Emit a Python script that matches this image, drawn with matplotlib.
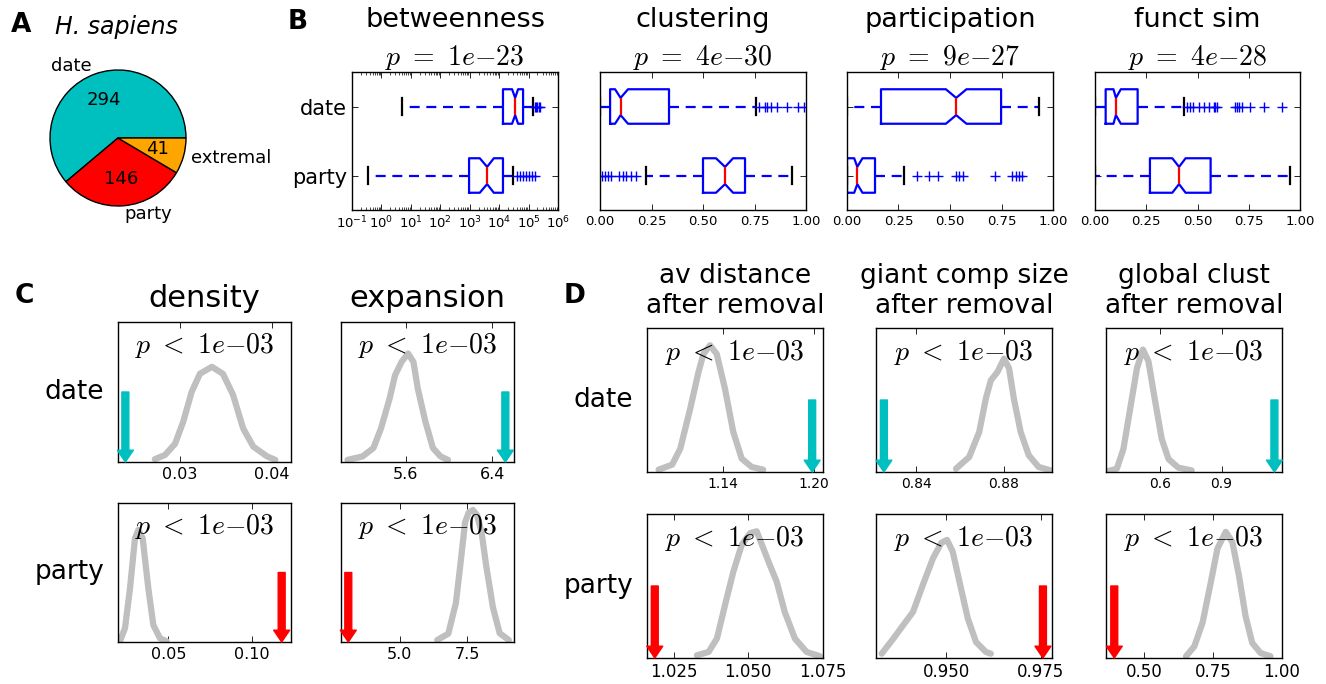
import matplotlib
matplotlib.use('Agg')
import matplotlib.pyplot as plt
from matplotlib.patches import FancyArrowPatch
from matplotlib.ticker import LogLocator, NullFormatter

W, H = 1326, 684

# --- A: pie of hub classes
pie_labels = ['date', 'party', 'extremal']
pie_counts = [294, 146, 41]
pie_colors = ['#00bfbf', '#ff0000', '#ffa500']

# --- B: box statistics, order = whislo, q1, cilo, med, cihi, q3, whishi
box_names = ['betweenness', 'clustering', 'participation', 'funct sim']
box_pvals = ['1e-23', '4e-30', '9e-27', '4e-28']

betw_date = [5.0, 1.35e4, 2.75e4, 3.5e4, 4.4e4, 6.5e4, 1.4e5]
betw_date_fl = [1.65e5, 1.8e5, 2.0e5, 2.3e5, 2.5e5]
betw_party = [0.35, 950, 2200, 3900, 6600, 1.35e4, 2.95e4]
betw_party_fl = [4.0e4, 5.0e4, 6.3e4, 8.0e4, 1.0e5, 1.26e5, 1.6e5]

clust_date = [0.0, 0.049, 0.073, 0.10, 0.136, 0.335, 0.757]
clust_date_fl = [0.77, 0.80, 0.81, 0.83, 0.86, 0.91, 0.96, 0.99]
clust_party = [0.223, 0.50, 0.563, 0.607, 0.646, 0.704, 0.932]
clust_party_fl = [0.01, 0.025, 0.04, 0.055, 0.09, 0.11, 0.125, 0.15, 0.175]

part_date = [0.0, 0.165, 0.48, 0.53, 0.58, 0.748, 0.93]
part_date_fl = []
part_party = [0.0, 0.0, 0.035, 0.05, 0.075, 0.136, 0.277]
part_party_fl = [0.34, 0.40, 0.44, 0.53, 0.544, 0.563, 0.72, 0.80, 0.82, 0.835, 0.85]

fsim_date = [0.0, 0.052, 0.09, 0.102, 0.126, 0.208, 0.433]
fsim_date_fl = [0.447, 0.463, 0.48, 0.505, 0.53, 0.554, 0.58, 0.587, 0.595,
                0.685, 0.693, 0.70, 0.717, 0.758, 0.823, 0.912]
fsim_party = [0.0, 0.268, 0.377, 0.41, 0.442, 0.564, 0.95]
fsim_party_fl = []

# --- C / D: null distributions (relative density) and observed values
density_date_x = [0.0273, 0.0284, 0.0295, 0.0304, 0.0313, 0.0322, 0.0335, 0.0347, 0.0358, 0.0369, 0.0380, 0.0395, 0.0404]
density_date_y = [0.02, 0.05, 0.13, 0.29, 0.50, 0.63, 0.68, 0.63, 0.48, 0.24, 0.11, 0.04, 0.015]
density_date_obs = 0.0241

expansion_date_x = [5.06, 5.20, 5.30, 5.37, 5.45, 5.50, 5.56, 5.62, 5.67, 5.71, 5.78, 5.85, 5.92, 5.99]
expansion_date_y = [0.015, 0.04, 0.10, 0.24, 0.455, 0.62, 0.715, 0.775, 0.715, 0.525, 0.29, 0.10, 0.04, 0.015]
expansion_date_obs = 6.52

density_party_x = [0.021, 0.024, 0.027, 0.030, 0.032, 0.0346, 0.038, 0.041, 0.045, 0.049]
density_party_y = [0.007, 0.10, 0.386, 0.746, 0.806, 0.746, 0.386, 0.122, 0.026, 0.005]
density_party_obs = 0.118

expansion_party_x = [6.39, 6.80, 7.08, 7.26, 7.42, 7.55, 7.71, 7.87, 8.03, 8.20, 8.45, 8.70, 9.04]
expansion_party_y = [0.014, 0.06, 0.28, 0.58, 0.86, 0.93, 0.95, 0.91, 0.79, 0.55, 0.25, 0.063, 0.014]
expansion_party_obs = 3.1

avdist_date_x = [1.097, 1.106, 1.1114, 1.118, 1.1235, 1.1268, 1.1312, 1.1356, 1.1411, 1.1466, 1.1522, 1.1588, 1.1665]
avdist_date_y = [0.016, 0.051, 0.162, 0.44, 0.694, 0.82, 0.88, 0.82, 0.578, 0.278, 0.093, 0.035, 0.016]
avdist_date_obs = 1.199

giant_date_x = [0.8581, 0.8641, 0.8687, 0.8717, 0.874, 0.877, 0.880, 0.8823, 0.8845, 0.8876, 0.8913, 0.8958, 0.9011]
giant_date_y = [0.023, 0.104, 0.278, 0.509, 0.637, 0.694, 0.787, 0.72, 0.509, 0.278, 0.116, 0.035, 0.012]
giant_date_obs = 0.8252

gclust_date_x = [0.348, 0.389, 0.421, 0.454, 0.487, 0.516, 0.543, 0.576, 0.608, 0.641, 0.689, 0.754]
gclust_date_y = [0.007, 0.023, 0.16, 0.44, 0.72, 0.85, 0.77, 0.49, 0.23, 0.09, 0.03, 0.011]
gclust_date_obs = 1.158

avdist_party_x = [1.0328, 1.0367, 1.0395, 1.0422, 1.045, 1.0478, 1.0506, 1.0528, 1.055, 1.0572, 1.0595, 1.0622, 1.0656, 1.0695, 1.074]
avdist_party_y = [0.019, 0.042, 0.135, 0.367, 0.60, 0.786, 0.867, 0.88, 0.763, 0.646, 0.53, 0.32, 0.135, 0.042, 0.012]
avdist_party_obs = 1.0187

giant_party_x = [0.9329, 0.936, 0.9386, 0.9412, 0.9438, 0.9465, 0.9487, 0.9502, 0.9517, 0.9535, 0.9557, 0.9579, 0.9605, 0.9618]
giant_party_y = [0.03, 0.135, 0.228, 0.32, 0.507, 0.693, 0.80, 0.82, 0.74, 0.53, 0.275, 0.11, 0.042, 0.03]
giant_party_obs = 0.9756

gclust_party_x = [0.652, 0.682, 0.712, 0.742, 0.766, 0.796, 0.82, 0.844, 0.868, 0.892, 0.922, 0.958]
gclust_party_y = [0.012, 0.08, 0.245, 0.526, 0.76, 0.876, 0.806, 0.572, 0.29, 0.105, 0.035, 0.012]
gclust_party_obs = 0.392

plt.rcParams['xtick.direction'] = 'in'
plt.rcParams['ytick.direction'] = 'in'
plt.rcParams['xtick.top'] = True
plt.rcParams['ytick.right'] = True
plt.rcParams['axes.linewidth'] = 1.0
plt.rcParams['xtick.major.size'] = 4
plt.rcParams['ytick.major.size'] = 4
plt.rcParams['xtick.minor.size'] = 2
plt.rcParams['xtick.major.width'] = 0.6
plt.rcParams['ytick.major.width'] = 0.6
plt.rcParams['xtick.minor.width'] = 0.5

fig = plt.figure(figsize=(W / 100.0, H / 100.0), dpi=100)


def add_ax(x0, y0, x1, y1):
    return fig.add_axes([x0 / W, 1 - y1 / H, (x1 - x0) / W, (y1 - y0) / H])


def ftext(x, y, s, **kw):
    fig.text(x / W, 1 - y / H, s, **kw)


# A
ax = add_ax(33, 53, 203, 223)
total = sum(pie_counts)
ax.pie(pie_counts, labels=pie_labels, colors=pie_colors, startangle=0,
       autopct=lambda pct: '%d' % round(pct * total / 100.0),
       pctdistance=0.6, labeldistance=1.12,
       wedgeprops={'edgecolor': 'k', 'linewidth': 1.0},
       textprops={'fontsize': 13})
ax.set_aspect('equal')
ftext(21, 25, 'A', fontsize=19, fontweight='bold', ha='center', va='center')
ftext(55, 27, 'H. sapiens', fontsize=17, style='italic', ha='left', va='center')


# B
def stats(v, fl):
    return {'whislo': v[0], 'q1': v[1], 'cilo': v[2], 'med': v[3],
            'cihi': v[4], 'q3': v[5], 'whishi': v[6], 'fliers': fl}


box_data = [
    (betw_party, betw_party_fl, betw_date, betw_date_fl),
    (clust_party, clust_party_fl, clust_date, clust_date_fl),
    (part_party, part_party_fl, part_date, part_date_fl),
    (fsim_party, fsim_party_fl, fsim_date, fsim_date_fl),
]
bx = [(352, 558), (600, 806), (847, 1053), (1095, 1300)]

for i, (pv, pfl, dv, dfl) in enumerate(box_data):
    ax = add_ax(bx[i][0], 72, bx[i][1], 210)
    ax.bxp([stats(pv, pfl), stats(dv, dfl)], positions=[1, 2], widths=0.5,
           orientation='horizontal', shownotches=True,
           boxprops={'color': 'b', 'linewidth': 1.6},
           whiskerprops={'color': 'b', 'linewidth': 1.6, 'linestyle': (0, (4.5, 3))},
           capprops={'color': 'k', 'linewidth': 1.6},
           medianprops={'color': 'r', 'linewidth': 1.6},
           flierprops={'marker': '+', 'markeredgecolor': 'b', 'markersize': 7,
                       'markeredgewidth': 1.0, 'linestyle': 'none'})
    ax.set_ylim(0.5, 2.5)
    if i == 0:
        ax.set_xscale('log')
        ax.set_xlim(1e-1, 1e6)
        ax.set_xticks([10.0 ** k for k in range(-1, 7)])
        ax.xaxis.set_minor_locator(LogLocator(base=10, subs=range(2, 10), numticks=20))
        ax.xaxis.set_minor_formatter(NullFormatter())
        ax.set_yticks([1, 2], ['party', 'date'], fontsize=15)
    else:
        ax.set_xlim(0, 1)
        ax.set_xticks([0, 0.25, 0.5, 0.75, 1.0], ['0.00', '0.25', '0.50', '0.75', '1.00'])
        ax.set_yticks([1, 2], ['', ''])
    ax.tick_params(axis='x', labelsize=9.5)
    cx = (bx[i][0] + bx[i][1]) / 2.0
    ftext(cx, 27, box_names[i], fontsize=19.5, ha='center', va='baseline')
    ftext(cx, 65, r'$p\ =\ %s$' % box_pvals[i].replace('-', '{-}'), fontsize=20,
          ha='center', va='baseline', math_fontfamily='cm')
ftext(298, 22, 'B', fontsize=19, fontweight='bold', ha='center', va='center')


# C and D
def null_panel(box, cx, cy, obs, color, xlim, ticks, labels, tsize):
    ax = add_ax(*box)
    ax.plot(cx, cy, color='0.75', lw=4.5, solid_joinstyle='round', solid_capstyle='round')
    ax.add_patch(FancyArrowPatch((obs, 0.5), (obs, 0.0),
                                 arrowstyle='simple,head_length=0.85,head_width=1.15,tail_width=0.5',
                                 mutation_scale=10, color=color, shrinkA=0, shrinkB=0,
                                 clip_on=False, zorder=3))
    ax.set_xlim(xlim)
    ax.set_ylim(0, 1)
    ax.set_xticks(ticks, labels)
    ax.tick_params(axis='x', labelsize=tsize)
    ax.tick_params(axis='y', left=False, right=False, labelleft=False)
    ax.text(0.5, 0.83, r'$p\ <\ 1e{-}03$', transform=ax.transAxes, fontsize=20,
            ha='center', va='center', math_fontfamily='cm')
    return ax


cyan = '#00bfbf'
red = '#ff0000'

null_panel((118, 322, 291, 462), density_date_x, density_date_y, density_date_obs, cyan,
           (0.0233, 0.0421), [0.03, 0.04], ['0.03', '0.04'], 11.5)
null_panel((341, 322, 514, 462), expansion_date_x, expansion_date_y, expansion_date_obs, cyan,
           (5.0, 6.6), [5.6, 6.4], ['5.6', '6.4'], 11.5)
null_panel((118, 503, 291, 642), density_party_x, density_party_y, density_party_obs, red,
           (0.0198, 0.1236), [0.05, 0.10], ['0.05', '0.10'], 11.5)
null_panel((341, 503, 514, 642), expansion_party_x, expansion_party_y, expansion_party_obs, red,
           (2.83, 9.23), [5.0, 7.5], ['5.0', '7.5'], 11.5)

for cx, name in [(204.5, 'density'), (427.5, 'expansion')]:
    ftext(cx, 307, name, fontsize=22, ha='center', va='baseline')
ftext(104, 392, 'date', fontsize=19, ha='right', va='center')
ftext(104, 572, 'party', fontsize=19, ha='right', va='center')
ftext(24, 296, 'C', fontsize=19, fontweight='bold', ha='center', va='center')

null_panel((647, 328, 823, 472), avdist_date_x, avdist_date_y, avdist_date_obs, cyan,
           (1.0893, 1.2062), [1.14, 1.20], ['1.14', '1.20'], 10)
null_panel((876, 328, 1052, 472), giant_date_x, giant_date_y, giant_date_obs, cyan,
           (0.8216, 0.9019), [0.84, 0.88], ['0.84', '0.88'], 10)
null_panel((1106, 328, 1282, 472), gclust_date_x, gclust_date_y, gclust_date_obs, cyan,
           (0.336, 1.195), [0.6, 0.9], ['0.6', '0.9'], 10)
null_panel((647, 514, 823, 658), avdist_party_x, avdist_party_y, avdist_party_obs, red,
           (1.0161, 1.075), [1.025, 1.050, 1.075], ['1.025', '1.050', '1.075'], 12)
null_panel((876, 514, 1052, 658), giant_party_x, giant_party_y, giant_party_obs, red,
           (0.9314, 0.978), [0.950, 0.975], ['0.950', '0.975'], 12)
null_panel((1106, 514, 1282, 658), gclust_party_x, gclust_party_y, gclust_party_obs, red,
           (0.362, 1.0), [0.50, 0.75, 1.00], ['0.50', '0.75', '1.00'], 12)

for cx, l1 in [(735, 'av distance'), (964, 'giant comp size'), (1194, 'global clust')]:
    ftext(cx, 283, l1, fontsize=19, ha='center', va='baseline')
    ftext(cx, 313, 'after removal', fontsize=19, ha='center', va='baseline')
ftext(633, 400, 'date', fontsize=19, ha='right', va='center')
ftext(633, 586, 'party', fontsize=19, ha='right', va='center')
ftext(575, 296, 'D', fontsize=19, fontweight='bold', ha='center', va='center')

fig.savefig('out.png', dpi=100)
